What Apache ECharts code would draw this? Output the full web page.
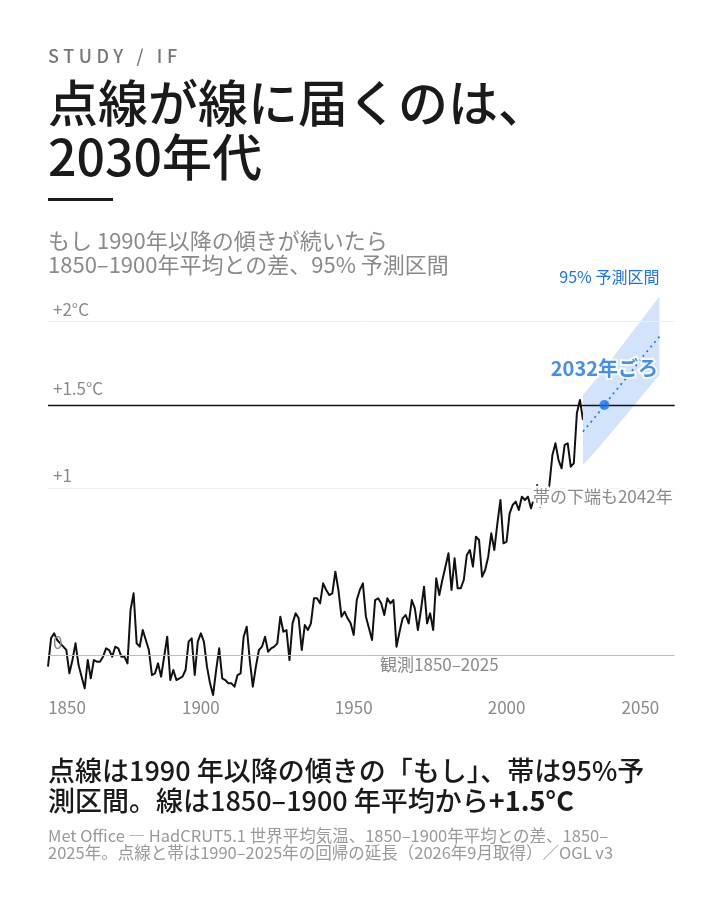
<!DOCTYPE html>
<html lang="ja">
<head>
<meta charset="utf-8">
<title>点線が線に届くのは、2030年代</title>
<script src="https://cdn.jsdelivr.net/npm/echarts@6/dist/echarts.min.js"></script>
<style>
    body { margin: 0; background: #fff; font-family: "Noto Sans CJK JP", "Noto Sans", sans-serif; }
    #page { position: relative; width: 720px; height: 900px; overflow: hidden; }
    #chart { position: absolute; left: 0; top: 0; width: 720px; height: 900px; }
    .txt { position: absolute; left: 48px; white-space: nowrap; }
    #kicker { top: 44px; font-size: 18px; line-height: 22px; letter-spacing: 4.6px; color: #777; font-weight: 500; }
    #title { top: 73px; font-size: 50px; line-height: 54px; color: #1a1a1a; font-weight: 500; }
    #rule { position: absolute; left: 48px; top: 198px; width: 65px; height: 3px; background: #1a1a1a; }
    #sub { top: 227px; font-size: 22px; line-height: 24px; color: #8a8a8a; }
    #note { top: 755px; font-size: 27px; line-height: 30px; color: #1a1a1a; font-weight: 500; }
    #src { top: 827px; font-size: 16.5px; line-height: 17px; color: #999; }
</style>
</head>
<body>
<div id="page">
    <div id="chart"></div>
    <div class="txt" id="kicker">STUDY / IF</div>
    <div class="txt" id="title">点線が線に届くのは、<br>2030年代</div>
    <div id="rule"></div>
    <div class="txt" id="sub">もし 1990年以降の傾きが続いたら<br>1850–1900年平均との差、95% 予測区間</div>
    <div class="txt" id="note">点線は1990 年以降の傾きの「もし」、帯は95%予<br>測区間。線は1850–1900 年平均から<b>+1.5°C</b></div>
    <div class="txt" id="src">Met Office — HadCRUT5.1 世界平均気温、1850–1900年平均との差、1850–<br>2025年。点線と帯は1990–2025年の回帰の延長（2026年9月取得）／OGL v3</div>
</div>
<script>
// 観測値（1850-1900年平均との差, °C）
var firstYear = 1850;
var obs1850s = [-0.07, 0.10, 0.13, 0.09, 0.07, 0.05, 0.03, -0.11, -0.03, 0.07];
var obs1860s = [-0.06, -0.13, -0.20, -0.03, -0.14, -0.03, -0.04, -0.04, -0.01, 0.04];
var obs1870s = [0.03, -0.01, 0.05, 0.04, -0.01, -0.01, -0.05, 0.27, 0.37, 0.07];
var obs1880s = [0.05, 0.15, 0.09, 0.03, -0.12, -0.11, -0.05, -0.13, -0.01, 0.11];
var obs1890s = [-0.15, -0.09, -0.15, -0.14, -0.13, -0.09, 0.08, 0.10, -0.12, 0.08];
var obs1900s = [0.13, 0.08, -0.07, -0.17, -0.24, -0.09, 0.04, -0.14, -0.15, -0.17];
var obs1910s = [-0.17, -0.19, -0.12, -0.11, 0.11, 0.17, -0.03, -0.19, -0.07, 0.03];
var obs1920s = [0.05, 0.11, 0.02, 0.04, 0.05, 0.07, 0.23, 0.14, 0.15, -0.03];
var obs1930s = [0.19, 0.25, 0.22, 0.03, 0.18, 0.15, 0.19, 0.34, 0.34, 0.31];
var obs1940s = [0.43, 0.39, 0.36, 0.37, 0.50, 0.39, 0.23, 0.26, 0.22, 0.19];
var obs1950s = [0.12, 0.33, 0.39, 0.43, 0.23, 0.16, 0.09, 0.33, 0.34, 0.31];
var obs1960s = [0.24, 0.34, 0.31, 0.33, 0.05, 0.14, 0.22, 0.24, 0.19, 0.33];
var obs1970s = [0.28, 0.15, 0.27, 0.41, 0.19, 0.25, 0.15, 0.46, 0.36, 0.45];
var obs1980s = [0.53, 0.61, 0.39, 0.58, 0.40, 0.40, 0.45, 0.60, 0.63, 0.53];
var obs1990s = [0.71, 0.69, 0.47, 0.51, 0.59, 0.73, 0.63, 0.79, 0.93, 0.67];
var obs2000s = [0.68, 0.85, 0.90, 0.92, 0.87, 0.95, 0.93, 0.95, 0.88, 0.94];
var obs2010s = [1.02, 0.89, 0.93, 0.97, 1.02, 1.20, 1.27, 1.17, 1.12, 1.26];
var obs2020s = [1.27, 1.13, 1.15, 1.45, 1.53, 1.41];

// 1990-2025年の回帰の延長と95%予測区間
var projYears = [2025, 2030, 2035, 2040, 2045, 2050];
var projCenter = [1.34, 1.45, 1.57, 1.68, 1.80, 1.91];
var projLower = [1.14, 1.24, 1.35, 1.46, 1.57, 1.68];
var projUpper = [1.56, 1.67, 1.79, 1.91, 2.03, 2.15];

var crossYear = 2032;
var target = 1.5;
var xTicks = [1850, 1900, 1950, 2000, 2050];

var grayText = '#8a8a8a';
var blue = '#1a73e8';
var bandColor = '#d3e3fb';

draw_chart();

function draw_chart() {
    var obsValues = [].concat(obs1850s, obs1860s, obs1870s, obs1880s, obs1890s, obs1900s,
        obs1910s, obs1920s, obs1930s, obs1940s, obs1950s, obs1960s, obs1970s, obs1980s,
        obs1990s, obs2000s, obs2010s, obs2020s);
    var obsData = obsValues.map(function (v, i) { return [firstYear + i, v]; });
    var bandData = projYears.map(function (y, i) { return [y, projLower[i], projUpper[i]]; });
    var centerData = projYears.map(function (y, i) { return [y, projCenter[i]]; });
    var lastYear = firstYear + obsValues.length - 1;

    var myChart = echarts.init(document.getElementById('chart'));
    var option = {
        animation: false,
        grid: { left: 48, right: 45.3, top: 271.6, bottom: 203.3 },
        xAxis: {
            type: 'value',
            min: 1850,
            max: 2055,
            interval: 50,
            axisLine: { show: false },
            axisTick: { show: false },
            splitLine: { show: false },
            axisLabel: {
                margin: 2,
                color: grayText,
                fontSize: 17,
                fontFamily: 'Noto Sans CJK JP',
                showMaxLabel: false,
                formatter: function (v) {
                    if (xTicks.indexOf(v) < 0) return '';
                    if (v === xTicks[0]) return '{l|' + v + '}';
                    if (v === xTicks[xTicks.length - 1]) return '{r|' + v + '}';
                    return '' + v;
                },
                rich: {
                    l: { padding: [0, 0, 0, 38], color: grayText, fontSize: 17, fontFamily: 'Noto Sans CJK JP' },
                    r: { padding: [0, 38, 0, 0], color: grayText, fontSize: 17, fontFamily: 'Noto Sans CJK JP' }
                }
            }
        },
        yAxis: {
            type: 'value',
            min: -0.25,
            max: 2.3,
            show: false
        },
        series: [
            {
                name: '観測',
                type: 'line',
                data: obsData,
                symbol: 'none',
                z: 2,
                lineStyle: { color: '#111', width: 2, join: 'round' },
                markLine: {
                    silent: true,
                    symbol: 'none',
                    animation: false,
                    label: {
                        position: 'insideStartTop',
                        distance: [5, 4],
                        color: grayText,
                        fontSize: 17,
                        fontFamily: 'Noto Sans CJK JP'
                    },
                    data: [
                        { yAxis: 2, lineStyle: { color: '#eeeeee', width: 1, type: 'solid' }, label: { formatter: '+2°C' } },
                        { yAxis: 1, lineStyle: { color: '#eeeeee', width: 1, type: 'solid' }, label: { formatter: '+1' } },
                        { yAxis: 0, lineStyle: { color: '#bdbdbd', width: 1, type: 'solid' }, label: { formatter: '0' } },
                        { yAxis: target, lineStyle: { color: '#111', width: 1.4, type: 'solid' }, label: { formatter: '+1.5°C', distance: [5, 8] } }
                    ]
                },
                markPoint: {
                    silent: true,
                    symbol: 'circle',
                    symbolSize: 1,
                    itemStyle: { color: 'rgba(0,0,0,0)' },
                    data: [
                        {
                            coord: [1978, 0],
                            label: {
                                show: true, position: 'bottom', distance: 1,
                                formatter: '観測' + firstYear + '–' + lastYear,
                                color: grayText, fontSize: 17, fontFamily: 'Noto Sans CJK JP'
                            }
                        }
                    ]
                }
            },
            {
                name: '95%予測区間',
                type: 'custom',
                z: 3,
                silent: true,
                data: bandData,
                encode: { x: 0, y: [1, 2] },
                renderItem: function (params, api) {
                    if (params.dataIndex !== 0) return;
                    var pts = [];
                    var i;
                    for (i = 0; i < bandData.length; i++) {
                        pts.push(api.coord([bandData[i][0], bandData[i][2]]));
                    }
                    for (i = bandData.length - 1; i >= 0; i--) {
                        pts.push(api.coord([bandData[i][0], bandData[i][1]]));
                    }
                    return { type: 'polygon', shape: { points: pts }, style: { fill: bandColor } };
                }
            },
            {
                name: '回帰の延長',
                type: 'line',
                data: centerData,
                symbol: 'none',
                z: 4,
                lineStyle: { color: blue, width: 1.6, type: [2, 4] },
                markPoint: {
                    silent: true,
                    symbol: 'circle',
                    symbolSize: 1,
                    itemStyle: { color: 'rgba(0,0,0,0)' },
                    data: [
                        {
                            coord: [2050, 2.15],
                            label: {
                                show: true, position: 'top', distance: 11, align: 'right',
                                formatter: '95% 予測区間',
                                color: blue, fontSize: 16, fontFamily: 'Noto Sans CJK JP'
                            }
                        },
                        {
                            coord: [2054.5, 0.95],
                            label: {
                                show: true, position: 'left', distance: 0,
                                formatter: '帯の下端も2042年',
                                color: grayText, fontSize: 17, fontFamily: 'Noto Sans CJK JP',
                                textBorderColor: '#fff', textBorderWidth: 5
                            }
                        }
                    ]
                }
            },
            {
                name: '到達',
                type: 'scatter',
                data: [[crossYear, target]],
                symbolSize: 10,
                z: 5,
                itemStyle: { color: blue },
                label: {
                    show: true,
                    position: 'top',
                    distance: 22,
                    formatter: crossYear + '年ごろ',
                    color: blue,
                    fontSize: 20,
                    fontWeight: 'bold',
                    fontFamily: 'Noto Sans CJK JP',
                    textBorderColor: '#fff',
                    textBorderWidth: 4
                }
            }
        ]
    };
    myChart.setOption(option);
}
</script>
</body>
</html>
